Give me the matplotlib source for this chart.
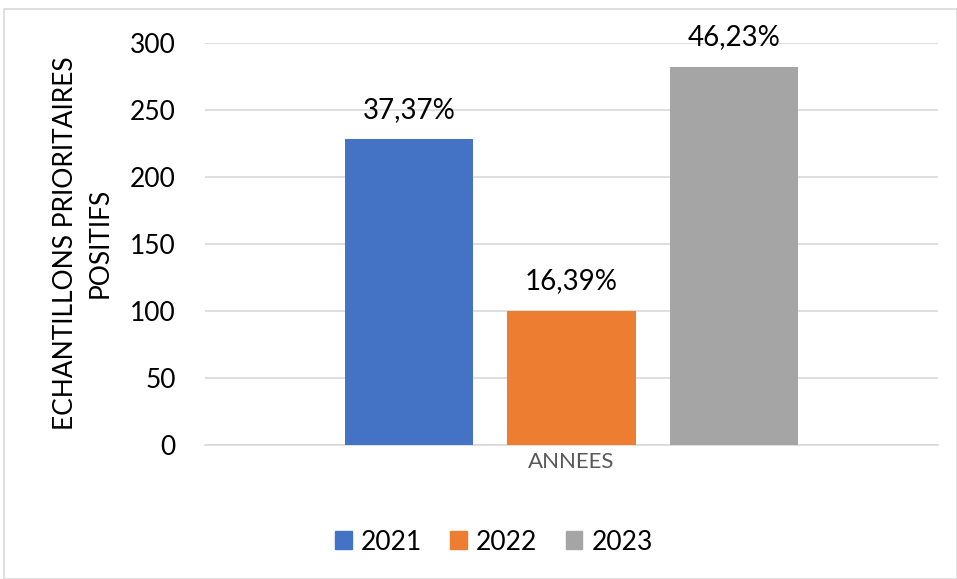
import matplotlib.pyplot as plt
from matplotlib.patches import Rectangle
import numpy as np

plt.rcParams['font.family'] = ['Lato', 'DejaVu Sans']

years = ['2021', '2022', '2023']
values = [228, 100, 282]
pct_labels = ['37,37%', '16,39%', '46,23%']
colors = ['#4472C4', '#ED7D31', '#A5A5A5']

fig = plt.figure(figsize=(9.57, 5.79), dpi=100)
ax = fig.add_axes([205 / 957, 1 - 445 / 579, (938 - 205) / 957, (445 - 43) / 579])

# cadre gris autour du graphique
fig.patches.append(Rectangle((4 / 957, 0.0), 1 - 4 / 957, 1 - 9 / 579,
                             transform=fig.transFigure, fill=False,
                             edgecolor='#d9d9d9', linewidth=1.2))

x = np.arange(len(years))
bars = ax.bar(x, values, width=0.79, color=colors, label=years, zorder=3)
for b, lab in zip(bars, pct_labels):
    ax.annotate(lab, (b.get_x() + b.get_width() / 2, b.get_height()),
                xytext=(0, 12), textcoords='offset points',
                ha='center', va='bottom', fontsize=20, color='#000000')

ax.set_xlim(-1.255, 3.255)
ax.set_ylim(0, 300)
ax.set_yticks(np.arange(0, 301, 50))
ax.tick_params(axis='y', length=0, labelsize=19, pad=21)
ax.set_xticks([1])
ax.set_xticklabels(['ANNEES'], fontsize=16, color='#595959')
ax.tick_params(axis='x', length=0, pad=5)
ax.grid(axis='y', color='#d9d9d9', linewidth=1.2, zorder=0)
for s in ['top', 'right', 'left']:
    ax.spines[s].set_visible(False)
ax.spines['bottom'].set_color('#d9d9d9')
ax.spines['bottom'].set_linewidth(1.2)

fig.text(83 / 957, 1 - 243 / 579, 'ECHANTILLONS PRIORITAIRES\nPOSITIFS',
         rotation=90, ha='center', va='center', fontsize=19, linespacing=1.5)

handles = [Rectangle((0, 0), 1, 1, color=c) for c in colors]
fig.legend(handles, years, loc='center', bbox_to_anchor=(494 / 957, 1 - 542 / 579),
           ncol=3, frameon=False, fontsize=19, handlelength=0.64, handleheight=0.68,
           handletextpad=0.34, columnspacing=1.06, borderpad=0)

fig.savefig('out.png', dpi=100)
